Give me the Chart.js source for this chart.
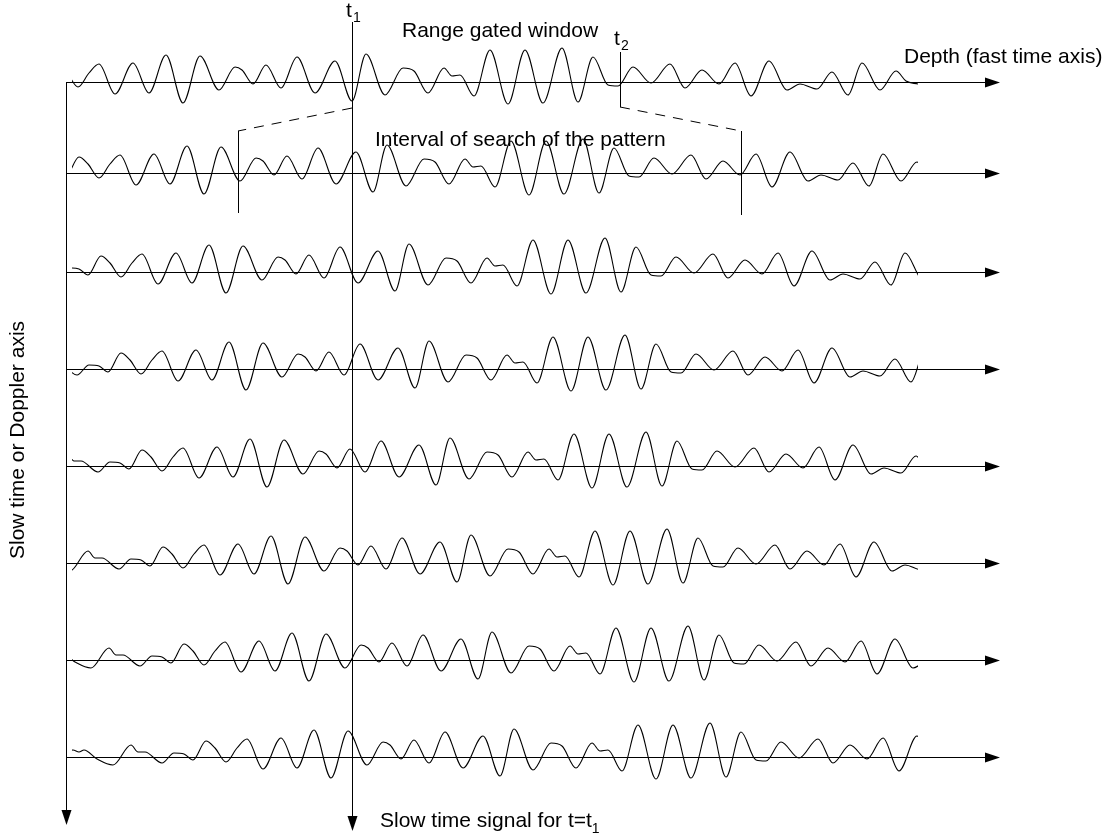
<!DOCTYPE html>
<html><head><meta charset="utf-8">
<script src="https://cdn.jsdelivr.net/npm/chart.js@4.4.1/dist/chart.umd.min.js"></script>
<style>html,body{margin:0;padding:0;background:#fff;}#wrap{width:1109px;height:838px;position:relative;}</style>
</head><body><div id="wrap"><canvas id="c"></canvas></div>
<script>
// Echo pattern along depth (fast time) (extrema of the waveform)
const echoDepth = [-80,-75,-69,-64,-51,-35,-17,-10,-3,14,26,36,45,58,67,78,89,99,115,133,149,166,183,200,219,235,242,253,266,281,297,315,335,352,366,385,403,414,428,444,452,460,474,490,508,525,543,562,578,593,608,618,633,651,670,685,702,719,735,751,769,787,800,817,832,848,862,880,896,906,918];
const echoAmp   = [5,7,5,7,-2,-8,12,5,5,-6,4,3,-3,16,9,-5,9,18,-12,19,-11,27,-21,26,-8,15,12,-2,17,-6,25,-11,21,-19,28,-13,14,11,-11,14,6,7,-14,32,-22,32,-21,34,-20,25,-3,-4,15,-1,18,-6,12,-2,19,-14,21,-8,-2,-7,10,-13,19,-8,11,1,-2];
// Depth migration of the pattern for each slow-time row
const rowDelay = [0,21,43,63,84,105,126,148];
// Text labels
const labels = {
  gate: 'Range gated window',
  depth: 'Depth (fast time axis)',
  search: 'Interval of search of the pattern',
  slowAxis: 'Slow time or Doppler axis',
  slowSignal: 'Slow time signal for t=t'
};

// ---- layout (positions only) ----
const rowBaseline = [82,173,272,369,466,563,660,757];
const WIN_L = 72, WIN_R = 918;
const FONT = '21px "Liberation Sans", Arial, sans-serif';
const SUBFONT = '14px "Liberation Sans", Arial, sans-serif';

const datasets = rowDelay.map((d,k)=>({
  data: echoDepth.map((x,i)=>({x: x + d, y: rowBaseline[k] - echoAmp[i]})),
  borderColor:'#000', borderWidth:1.1, pointRadius:0, fill:false,
  cubicInterpolationMode:'monotone', clip:0
}));

const decor = {
  id:'decor',
  afterDatasetsDraw(chart){
    const {ctx, scales:{x,y}} = chart;
    const X = v=>x.getPixelForValue(v), Y = v=>y.getPixelForValue(v);
    ctx.save();
    ctx.strokeStyle='#000'; ctx.fillStyle='#000'; ctx.lineWidth=1;
    const line=(x1,y1,x2,y2)=>{ctx.beginPath();ctx.moveTo(x1,y1);ctx.lineTo(x2,y2);ctx.stroke();};
    const arrowR=(tx,ty)=>{ctx.beginPath();ctx.moveTo(tx,ty);ctx.lineTo(tx-15,ty-5);ctx.lineTo(tx-15,ty+5);ctx.closePath();ctx.fill();};
    const arrowD=(tx,ty)=>{ctx.beginPath();ctx.moveTo(tx,ty);ctx.lineTo(tx-5,ty-15);ctx.lineTo(tx+5,ty-15);ctx.closePath();ctx.fill();};
    // fast-time axes for every row
    rowBaseline.forEach(b=>{ line(X(66),Y(b)+0.5,X(988),Y(b)+0.5); arrowR(X(1000),Y(b)+0.5); });
    // slow-time axis
    line(X(66)+0.5,Y(rowBaseline[0]),X(66)+0.5,Y(812)); arrowD(X(66)+0.5,Y(825));
    // t1 line
    line(X(352)+0.5,Y(22),X(352)+0.5,Y(818)); arrowD(X(352)+0.5,Y(831));
    // t2 line
    line(X(620)+0.5,Y(52),X(620)+0.5,Y(107));
    // search interval bars
    line(X(238)+0.5,Y(131),X(238)+0.5,Y(213));
    line(X(741)+0.5,Y(131),X(741)+0.5,Y(215));
    ctx.setLineDash([10,8]);
    line(X(352),Y(108),X(238),Y(131));
    line(X(620),Y(107),X(741),Y(131));
    ctx.setLineDash([]);
    // texts
    ctx.textBaseline='middle'; ctx.textAlign='left';
    ctx.font=FONT;
    ctx.fillText('t',X(346),Y(11));
    ctx.fillText(labels.gate,X(402),Y(31));
    ctx.fillText('t',X(614),Y(39));
    ctx.fillText(labels.depth,X(904),Y(57));
    ctx.fillText(labels.search,X(375),Y(140));
    ctx.fillText(labels.slowSignal,X(380),Y(821));
    const w = ctx.measureText(labels.slowSignal).width;
    ctx.font=SUBFONT;
    ctx.fillText('1',X(353),Y(18));
    ctx.fillText('2',X(621),Y(46));
    ctx.fillText('1',X(380)+w,Y(829));
    ctx.font=FONT;
    ctx.translate(X(18),Y(440)); ctx.rotate(-Math.PI/2);
    ctx.textAlign='center';
    ctx.fillText(labels.slowAxis,0,0);
    ctx.restore();
  }
};

new Chart(document.getElementById('c'),{
  type:'line',
  data:{datasets},
  options:{
    responsive:true, maintainAspectRatio:false, animation:false, events:[],
    layout:{padding:{left:WIN_L,right:1109-WIN_R,top:0,bottom:0}},
    scales:{
      x:{type:'linear',min:WIN_L,max:WIN_R,display:false},
      y:{type:'linear',min:0,max:838,reverse:true,display:false}
    },
    plugins:{legend:{display:false},tooltip:{enabled:false}}
  },
  plugins:[decor]
});
</script></body></html>
